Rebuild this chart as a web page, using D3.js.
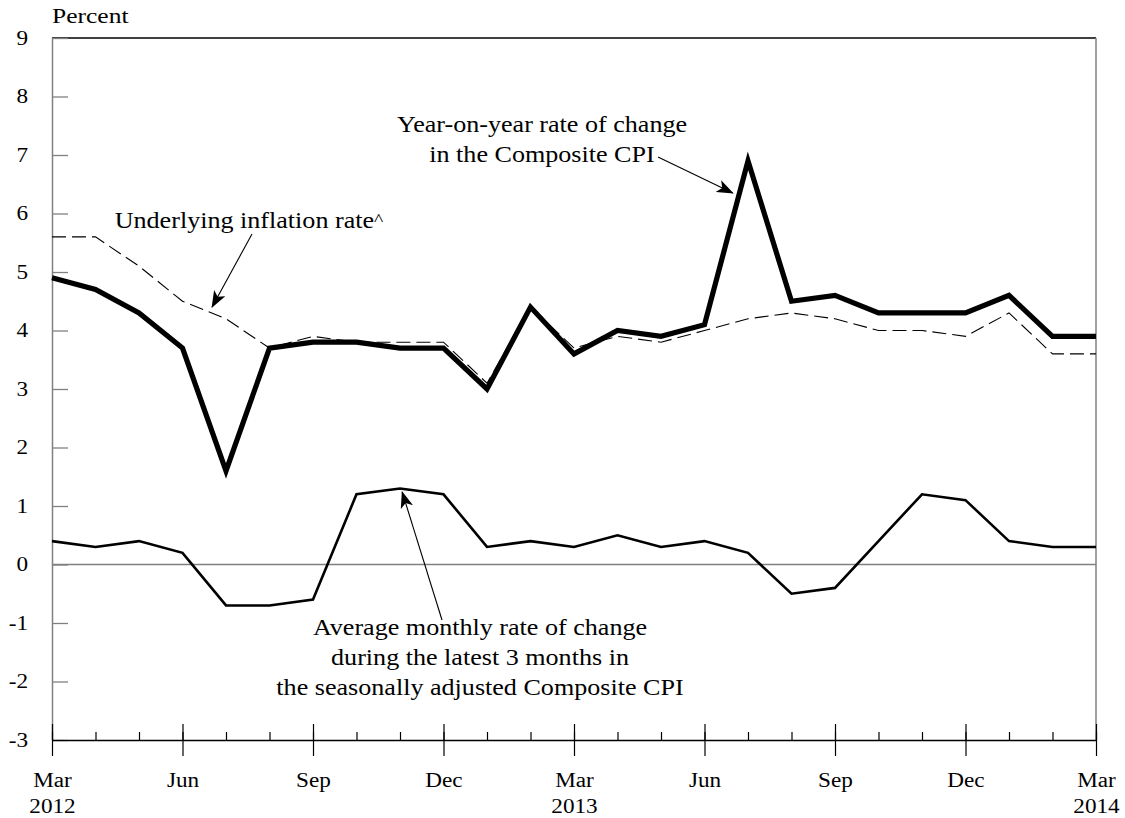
<!DOCTYPE html>
<html>
<head>
<meta charset="utf-8">
<script src="https://cdn.jsdelivr.net/npm/d3@7"></script>
<style>
  body { margin: 0; background: #fff; }
  svg { display: block; }
  text { font-family: "Liberation Serif", "Times New Roman", serif; fill: #000; }
</style>
</head>
<body>
<svg id="chart" width="1125" height="818"></svg>
<script>
// months from Mar 2012 to Mar 2014
var months = ["Mar", "Apr", "May", "Jun", "Jul", "Aug", "Sep", "Oct", "Nov", "Dec", "Jan", "Feb",
              "Mar", "Apr", "May", "Jun", "Jul", "Aug", "Sep", "Oct", "Nov", "Dec", "Jan", "Feb", "Mar"];
var yearLabels = {0: "2012", 12: "2013", 24: "2014"};
var yTicks = [-3, -2, -1, 0, 1, 2, 3, 4, 5, 6, 7, 8, 9];

var compositeYoY = [4.9, 4.7, 4.3, 3.7, 1.6, 3.7, 3.8, 3.8, 3.7, 3.7, 3.0, 4.4,
                    3.6, 4.0, 3.9, 4.1, 6.9, 4.5, 4.6, 4.3, 4.3, 4.3, 4.6, 3.9, 3.9];
var underlying = [5.6, 5.6, 5.1, 4.5, 4.2, 3.7, 3.9, 3.8, 3.8, 3.8, 3.1, 4.4,
                  3.7, 3.9, 3.8, 4.0, 4.2, 4.3, 4.2, 4.0, 4.0, 3.9, 4.3, 3.6, 3.6];
var monthlyAvg = [0.4, 0.3, 0.4, 0.2, -0.7, -0.7, -0.6, 1.2, 1.3, 1.2, 0.3, 0.4,
                  0.3, 0.5, 0.3, 0.4, 0.2, -0.5, -0.4, 0.4, 1.2, 1.1, 0.4, 0.3, 0.3];

var SX = 1.16; // the original type is a bit wider than Times
var GREY = "#808080";

var svg = d3.select("#chart");
var plotLeft = 52, plotRight = 1096, plotTop = 38, plotBottom = 740;

var x = d3.scaleLinear().domain([0, months.length - 1]).range([plotLeft, plotRight]);
var y = d3.scaleLinear().domain([-3, 9]).range([plotBottom, plotTop]);

// widen a text element around its anchor point
function stretch(sel) {
    sel.each(function () {
        var t = d3.select(this);
        var tx = +t.attr("x") || 0, ty = +t.attr("y") || 0;
        t.attr("x", 0).attr("y", 0)
            .attr("transform", "translate(" + tx + "," + ty + ") scale(" + SX + ",1)");
    });
}

svg.append("defs").append("marker")
    .attr("id", "arrow")
    .attr("viewBox", "0 -6 16 12")
    .attr("refX", 15).attr("refY", 0)
    .attr("markerUnits", "userSpaceOnUse")
    .attr("markerWidth", 17).attr("markerHeight", 13)
    .attr("orient", "auto")
    .append("path")
    .attr("d", "M0,-6L16,0L0,6L4,0Z")
    .attr("fill", "#000");

// frame: top black, right grey
svg.append("line").attr("x1", plotLeft).attr("x2", plotRight).attr("y1", plotTop).attr("y2", plotTop)
    .attr("stroke", "#000").attr("stroke-width", 1.3);
svg.append("line").attr("x1", plotRight).attr("x2", plotRight).attr("y1", plotTop).attr("y2", plotBottom)
    .attr("stroke", GREY).attr("stroke-width", 1.5);

// y axis, ticks pointing inward, plain hyphen for negatives
var yAxis = svg.append("g")
    .attr("transform", "translate(" + plotLeft + ",0)")
    .call(d3.axisLeft(y).tickValues(yTicks).tickSizeInner(-16).tickSizeOuter(0).tickPadding(24)
        .tickFormat(function (d) { return String(d); }));
yAxis.select(".domain").attr("stroke", GREY).attr("stroke-width", 1.5);
yAxis.selectAll(".tick line").attr("stroke", GREY).attr("stroke-width", 1.3);
yAxis.selectAll(".tick text").attr("font-size", 20).attr("font-family", null).call(stretch);

// zero line
svg.append("line").attr("x1", plotLeft).attr("x2", plotRight).attr("y1", y(0)).attr("y2", y(0))
    .attr("stroke", GREY).attr("stroke-width", 1.5);

// x axis: minor ticks every month, major every quarter
var xMinor = svg.append("g")
    .attr("transform", "translate(0," + plotBottom + ")")
    .call(d3.axisBottom(x).tickValues(d3.range(months.length)).tickSizeInner(-8).tickSizeOuter(0).tickFormat(""));
xMinor.select(".domain").attr("stroke", "#000").attr("stroke-width", 1.3);
xMinor.selectAll(".tick line").attr("stroke", "#000").attr("stroke-width", 1.2);

var xMajor = svg.append("g")
    .attr("transform", "translate(0," + plotBottom + ")")
    .call(d3.axisBottom(x).tickValues(d3.range(0, months.length, 3)).tickSizeInner(16).tickSizeOuter(0)
        .tickFormat(function (i) { return months[i]; }));
xMajor.select(".domain").remove();
xMajor.selectAll(".tick line").attr("y1", -16).attr("stroke", "#000").attr("stroke-width", 1.2);
xMajor.selectAll(".tick text")
    .attr("font-size", 20).attr("font-family", null)
    .attr("y", 47).attr("dy", 0)
    .each(function (i) {
        if (yearLabels[i]) {
            d3.select(this).append("tspan").attr("x", 0).attr("dy", 26).text(yearLabels[i]);
        }
    })
    .call(stretch);

// series
var line = d3.line().x(function (d, i) { return x(i); }).y(function (d) { return y(d); });

svg.append("path").datum(monthlyAvg).attr("d", line)
    .attr("fill", "none").attr("stroke", "#000").attr("stroke-width", 2.6).attr("stroke-linejoin", "miter");
svg.append("path").datum(compositeYoY).attr("d", line)
    .attr("fill", "none").attr("stroke", "#000").attr("stroke-width", 5.2).attr("stroke-linejoin", "miter");
svg.append("path").datum(underlying).attr("d", line)
    .attr("fill", "none").attr("stroke", "#000").attr("stroke-width", 1.1).attr("stroke-dasharray", "14,6");

// axis title
svg.append("text").attr("x", plotLeft).attr("y", 23).attr("font-size", 22).text("Percent").call(stretch);

// annotations
var notes = [
    {lines: ["Year-on-year rate of change", "in the Composite CPI"], x: 542, y: 132,
     from: [658, 157], to: [x(15.65), y(6.35)]},
    {lines: ["Underlying inflation rate"], x: 249, y: 228, caret: true,
     from: [252, 234], to: [x(3.68), y(4.4)]},
    {lines: ["Average monthly rate of change", "during the latest 3 months in",
             "the seasonally adjusted Composite CPI"], x: 480, y: 635,
     from: [442, 620], to: [x(8.05), y(1.24)]}
];

notes.forEach(function (n) {
    var t = svg.append("text")
        .attr("x", n.x).attr("y", n.y)
        .attr("font-size", 22.5)
        .attr("text-anchor", "middle");
    n.lines.forEach(function (s, i) {
        t.append("tspan").attr("x", 0).attr("dy", i === 0 ? 0 : 30).text(s);
    });
    if (n.caret) {
        t.append("tspan").attr("font-size", 17).attr("dy", -3).text("^");
    }
    t.call(stretch);

    svg.append("line")
        .attr("x1", n.from[0]).attr("y1", n.from[1])
        .attr("x2", n.to[0]).attr("y2", n.to[1])
        .attr("stroke", "#000").attr("stroke-width", 1.1)
        .attr("marker-end", "url(#arrow)");
});
</script>
</body>
</html>
